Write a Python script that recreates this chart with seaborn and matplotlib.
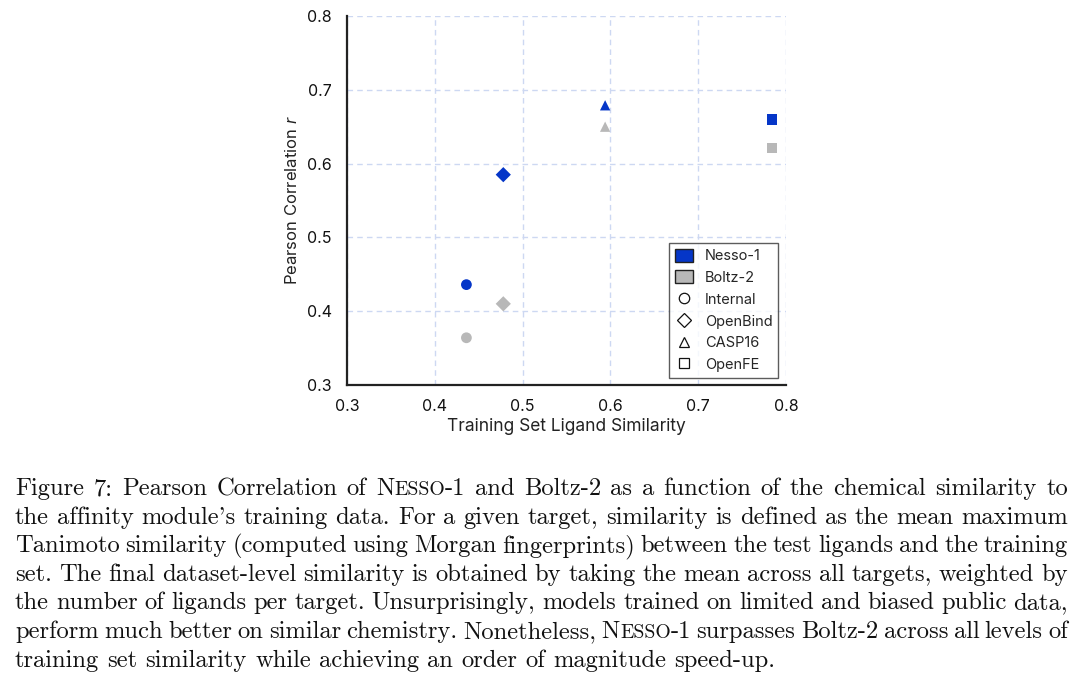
import numpy as np
import pandas as pd
import matplotlib
matplotlib.use("Agg")
import matplotlib.pyplot as plt
import seaborn as sns
from matplotlib.patches import Patch
from matplotlib.lines import Line2D

# data
datasets = ["Internal", "OpenBind", "CASP16", "OpenFE"]
similarity = [0.436, 0.478, 0.594, 0.784]
nesso_r = [0.436, 0.585, 0.679, 0.660]
boltz_r = [0.364, 0.410, 0.650, 0.621]
models = ["Nesso-1", "Boltz-2"]

colors = {"Nesso-1": "#0536c8", "Boltz-2": "#b8b8b8"}
markers = {"Internal": "o", "OpenBind": "D", "CASP16": "^", "OpenFE": "s"}
sizes = {"Internal": 60, "OpenBind": 60, "CASP16": 55, "OpenFE": 60}

df = pd.DataFrame({
    "dataset": datasets * 2,
    "similarity": similarity * 2,
    "r": nesso_r + boltz_r,
    "model": ["Nesso-1"] * 4 + ["Boltz-2"] * 4,
})

sns.set_style("white")
plt.rcParams["font.family"] = ["Inter", "DejaVu Sans"]
plt.rcParams["mathtext.fontset"] = "custom"
plt.rcParams["mathtext.it"] = "Inter:italic"
plt.rcParams["mathtext.rm"] = "Inter"

fig = plt.figure(figsize=(10.8, 6.8), dpi=100)
ax = fig.add_axes([347 / 1080, 1 - 385 / 680, 439 / 1080, 369 / 680])

for ds in datasets:
    sub = df[df["dataset"] == ds]
    sns.scatterplot(data=sub, x="similarity", y="r", hue="model", palette=colors,
                    marker=markers[ds], s=sizes[ds], linewidth=0, ax=ax,
                    legend=False, zorder=3)

ax.set_xlim(0.3, 0.8)
ax.set_ylim(0.3, 0.8)
ticks = [0.3, 0.4, 0.5, 0.6, 0.7, 0.8]
ax.set_xticks(ticks)
ax.set_yticks(ticks)
ax.set_xticklabels([f"{t:.1f}" for t in ticks])
ax.set_yticklabels([f"{t:.1f}" for t in ticks])
ax.tick_params(length=0, labelsize=11.5, colors="#111111")
ax.tick_params(axis="x", pad=10)
ax.tick_params(axis="y", pad=11)
ax.grid(True, color="#cdd8f2", linestyle=(0, (4, 3)), linewidth=1.0)
for s in ["top", "right"]:
    ax.spines[s].set_visible(False)
for s in ["left", "bottom"]:
    ax.spines[s].set_color("#222222")
    ax.spines[s].set_linewidth(1.6)
ax.set_xlabel("Training Set Ligand Similarity", fontsize=12.5, color="#222222", labelpad=3)
ax.set_ylabel("Pearson Correlation $r$", fontsize=12, color="#222222", labelpad=5)

handles = [Patch(facecolor=colors[m], edgecolor="#222222", label=m) for m in models]
for ds in datasets:
    handles.append(Line2D([], [], linestyle="none", marker=markers[ds], markersize=7.5,
                          markerfacecolor="none", markeredgecolor="#111111",
                          markeredgewidth=0.9, label=ds))
leg = ax.legend(handles=handles, loc="lower right", bbox_to_anchor=(0.982, 0.019),
                borderaxespad=0, fontsize=10.5, frameon=True, fancybox=False,
                edgecolor="#333333", handlelength=1.25, handleheight=1.0,
                labelspacing=0.5, borderpad=0.4, handletextpad=0.8)
leg.get_frame().set_linewidth(1.0)

# caption, justified like the LaTeX source
cap_lines = [
    "Figure 7: Pearson Correlation of |Nesso|-1 and Boltz-2 as a function of the chemical similarity to",
    "the affinity module's training data. For a given target, similarity is defined as the mean maximum",
    "Tanimoto similarity (computed using Morgan fingerprints) between the test ligands and the training",
    "set. The final dataset-level similarity is obtained by taking the mean across all targets, weighted by",
    "the number of ligands per target. Unsurprisingly, models trained on limited and biased public data,",
    "perform much better on similar chemistry. Nonetheless, |Nesso|-1 surpasses Boltz-2 across all levels of",
    "training set similarity while achieving an order of magnitude speed-up.",
]
cap_font = ["cmr10", "DejaVu Serif"]
cap_size = 17.7
x_left, x_right = 15, 1068
baselines = [495 + 28.6 * i for i in range(len(cap_lines))]

fig.canvas.draw()
rend = fig.canvas.get_renderer()


def word_pieces(word):
    # "|Nesso|-1" -> small caps for the marked part
    if "|" not in word:
        return [(word, 1.0)]
    pre, sc, post = word.split("|")
    out = []
    if pre:
        out.append((pre, 1.0))
    out.append((sc[0], 1.0))
    out.append((sc[1:].upper(), 0.8))
    if post:
        out.append((post, 1.0))
    return out


def make_word(word, x, y):
    items = []
    for txt, scale in word_pieces(word):
        t = fig.text(x / 1080, 1 - y / 680, txt, fontsize=cap_size * scale,
                     family=cap_font, va="baseline", ha="left", color="#111111")
        w = t.get_window_extent(renderer=rend).width
        items.append((t, w))
        x += w
    return items


space_t = fig.text(0, 0, "a a", fontsize=cap_size, family=cap_font)
aa_t = fig.text(0, 0, "aa", fontsize=cap_size, family=cap_font)
space_w = space_t.get_window_extent(renderer=rend).width - aa_t.get_window_extent(renderer=rend).width
space_t.remove()
aa_t.remove()

for i, (line, yb) in enumerate(zip(cap_lines, baselines)):
    words = line.split(" ")
    placed = [make_word(w, 0, yb) for w in words]
    widths = [sum(w for _, w in p) for p in placed]
    if i < len(cap_lines) - 1 and len(words) > 1:
        gap = (x_right - x_left - sum(widths)) / (len(words) - 1)
    else:
        gap = space_w
    x = x_left
    for p, wsum in zip(placed, widths):
        xx = x
        for t, w in p:
            t.set_x(xx / 1080)
            xx += w
        x += wsum + gap

fig.savefig("out.png", dpi=100)
